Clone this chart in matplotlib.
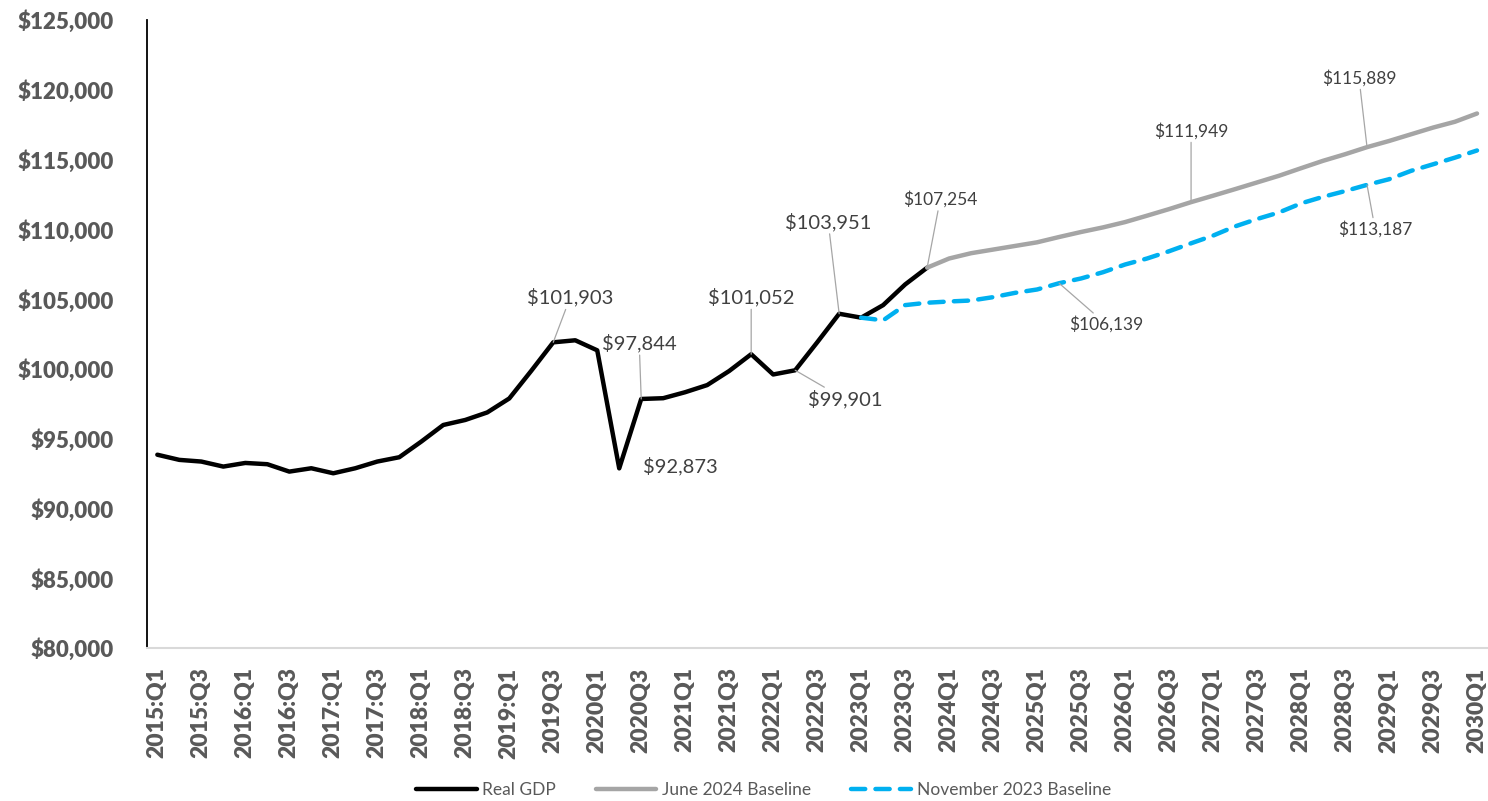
import matplotlib.pyplot as plt
import numpy as np
from matplotlib.ticker import FuncFormatter

plt.rcParams['font.family'] = ['Lato', 'DejaVu Sans']

# quarter categories, 2015Q1 .. 2030Q1 (source switches label style at 2019Q3)
quarters = [f"{y}:Q{q}" if (y, q) < (2019, 3) else f"{y}Q{q}"
            for y in range(2015, 2031) for q in range(1, 5)][:61]

# Real GDP, 2015Q1 .. 2023Q4
real_gdp = [93850, 93480, 93360, 93000, 93260, 93170, 92640, 92880,
            92520, 92880, 93360, 93670, 94790, 95980, 96340, 96880,
            97880, 99860, 101903, 102050, 101330, 92873, 97844, 97900,
            98330, 98840, 99850, 101052, 99600, 99901, 101900, 103951,
            103670, 104570, 106050, 107254]

# June 2024 baseline, 2023Q4 .. 2030Q1
june_2024 = [107254, 107910, 108290, 108550, 108810, 109070, 109450, 109810,
             110140, 110520, 110980, 111450, 111949, 112410, 112880, 113360,
             113840, 114380, 114910, 115380, 115889, 116330, 116810, 117290,
             117710, 118300]

# November 2023 baseline, 2023Q1 .. 2030Q1
nov_2023 = [103670, 103480, 104570, 104740, 104830, 104900, 105140, 105450,
            105690, 106139, 106480, 106930, 107480, 107910, 108430, 109000,
            109550, 110210, 110740, 111210, 111860, 112330, 112740, 113187,
            113590, 114190, 114660, 115140, 115650]

series = {
    'Real GDP': (quarters.index('2015:Q1'), real_gdp),
    'June 2024 Baseline': (quarters.index('2023Q4'), june_2024),
    'November 2023 Baseline': (quarters.index('2023Q1'), nov_2023),
}

# labelled points: series, quarter, text offset in pixels, leader line, font size
labels = [
    ('Real GDP', '2019Q3', (17, 45), True, 14.5),
    ('Real GDP', '2020Q3', (-2, 56), True, 14.5),
    ('Real GDP', '2020Q2', (61, 2), False, 14.5),
    ('Real GDP', '2021Q4', (0, 57), True, 14.5),
    ('Real GDP', '2022Q2', (50, -29), True, 14.5),
    ('Real GDP', '2022Q4', (-11, 92), True, 14.5),
    ('June 2024 Baseline', '2023Q4', (13, 68), True, 12.5),
    ('June 2024 Baseline', '2026Q4', (0, 71), True, 12.5),
    ('June 2024 Baseline', '2028Q4', (-8, 69), True, 12.5),
    ('November 2023 Baseline', '2025Q2', (47, -41), True, 12.5),
    ('November 2023 Baseline', '2028Q4', (8, -44), True, 12.5),
]

styles = {
    'Real GDP': dict(color='black', lw=3.2, solid_capstyle='round'),
    'June 2024 Baseline': dict(color='#A5A5A5', lw=3.2, solid_capstyle='round'),
    'November 2023 Baseline': dict(color='#00B0F0', lw=3.2, dashes=(3.2, 2.3),
                                   dash_capstyle='round'),
}

fig = plt.figure(figsize=(14.88, 8.01), dpi=100)
ax = fig.add_axes([147 / 1488, 1 - 648 / 801, 1 - 147 / 1488, (648 - 20) / 801])

for name, (start, vals) in series.items():
    x = np.arange(start, start + len(vals))
    ax.plot(x, vals, label=name, **styles[name])

for name, q, (dx, dy), leader, fs in labels:
    start, vals = series[name]
    i = quarters.index(q)
    v = vals[i - start]
    ax.annotate(f"${v:,.0f}", xy=(i, v), xytext=(dx, dy),
                textcoords='offset pixels', ha='center', va='center',
                fontsize=fs, color='#404040',
                arrowprops=dict(arrowstyle='-', color='#A6A6A6', lw=0.9,
                                shrinkA=0, shrinkB=0) if leader else None)

ax.set_xlim(-0.47, 60.5)
ax.set_ylim(80000, 125000)
ax.set_yticks(np.arange(80000, 125001, 5000))
ax.yaxis.set_major_formatter(FuncFormatter(lambda v, p: f"${v:,.0f}"))
ax.set_xticks(range(0, len(quarters), 2))
ax.set_xticklabels(quarters[::2], rotation=90)

ax.tick_params(axis='y', length=0, pad=24, labelsize=16, labelcolor='#595959')
ax.tick_params(axis='x', length=0, pad=14, labelsize=16.5, labelcolor='#595959')
for lab in ax.get_xticklabels() + ax.get_yticklabels():
    lab.set_fontweight('heavy')

for s in ['top', 'right']:
    ax.spines[s].set_visible(False)
ax.spines['left'].set_color('black')
ax.spines['left'].set_linewidth(1.3)
ax.spines['bottom'].set_color('#D9D9D9')
ax.spines['bottom'].set_linewidth(1.5)

fig.legend(loc='center', bbox_to_anchor=(0.513, 0.014), ncol=3, frameon=False,
           fontsize=12.5, labelcolor='#595959', handlelength=3.5,
           handletextpad=0.3, columnspacing=2.3)

fig.savefig('out.png', dpi=100)
